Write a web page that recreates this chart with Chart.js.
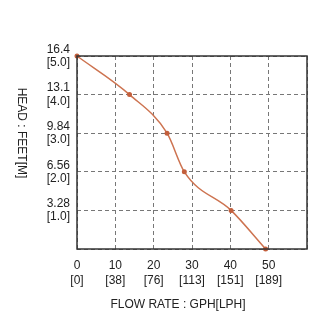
<!DOCTYPE html>
<html>
<head>
<meta charset="utf-8">
<script src="https://cdn.jsdelivr.net/npm/chart.js@4"></script>
<style>
  html, body { margin: 0; padding: 0; background: #fff; }
  #wrap { width: 327px; height: 322px; }
</style>
</head>
<body>
<div id="wrap"><canvas id="pumpChart" width="327" height="322"></canvas></div>
<script>
// pump curve
const flowGph = [0, 13.7, 23.5, 28.0, 40.2, 49.2];
const headFt = [16.4, 13.12, 9.84, 6.56, 3.28, 0];

const xTicks = [0, 10, 20, 30, 40, 50, 60];
const xTickGph = ['0', '10', '20', '30', '40', '50', ''];
const xTickLph = ['[0]', '[38]', '[76]', '[113]', '[151]', '[189]', ''];

const yTicks = [0, 3.28, 6.56, 9.84, 13.12, 16.4];
const yTickFt = ['', '3.28', '6.56', '9.84', '13.1', '16.4'];
const yTickM = ['', '[1.0]', '[2.0]', '[3.0]', '[4.0]', '[5.0]'];

const FONT = "'Liberation Sans', Arial, sans-serif";

const axisTitles = {
    id: 'axisTitles',
    afterDraw(chart) {
        const { ctx, chartArea: { left, top, right, bottom } } = chart;
        ctx.save();
        // box around plot
        ctx.strokeStyle = '#333';
        ctx.lineWidth = 1.5;
        ctx.strokeRect(left, top, right - left, bottom - top);

        ctx.fillStyle = '#222';
        ctx.font = '12px ' + FONT;
        ctx.textAlign = 'center';
        ctx.textBaseline = 'middle';
        ctx.fillText('FLOW RATE : GPH[LPH]', 178, 305);

        ctx.translate(21, 133);
        ctx.rotate(Math.PI / 2);
        ctx.fillText('HEAD : FEET[M]', 0, 0);
        ctx.restore();
    }
};

const points = flowGph.map((x, i) => ({ x: x, y: headFt[i] }));

new Chart(document.getElementById('pumpChart'), {
    type: 'line',
    data: {
        datasets: [{
            data: points,
            borderColor: 'rgb(205, 115, 80)',
            borderWidth: 1.5,
            backgroundColor: 'rgb(195, 95, 60)',
            pointBackgroundColor: 'rgb(195, 95, 60)',
            pointBorderWidth: 0,
            pointRadius: 2.5,
            cubicInterpolationMode: 'monotone',
            fill: false,
            clip: false
        }]
    },
    options: {
        responsive: false,
        animation: false,
        layout: { padding: { left: 0, top: 56, right: 20, bottom: 0 } },
        plugins: {
            legend: { display: false },
            tooltip: { enabled: false }
        },
        scales: {
            x: {
                type: 'linear',
                min: 0,
                max: 60,
                afterFit(scale) { scale.height = 73; },
                afterBuildTicks(scale) { scale.ticks = xTicks.map(v => ({ value: v })); },
                grid: {
                    color: '#777',
                    lineWidth: 1,
                    drawTicks: false
                },
                border: { display: false, dash: [4, 3] },
                ticks: {
                    padding: 9,
                    color: '#222',
                    maxRotation: 0,
                    autoSkip: false,
                    font: { family: FONT, size: 12, lineHeight: 1.25 },
                    callback: function (value) {
                        const i = xTicks.indexOf(value);
                        return i < 0 ? '' : [xTickGph[i], xTickLph[i]];
                    }
                }
            },
            y: {
                type: 'linear',
                min: 0,
                max: 16.4,
                afterFit(scale) { scale.width = 77; },
                afterBuildTicks(scale) { scale.ticks = yTicks.map(v => ({ value: v })); },
                grid: {
                    color: '#777',
                    lineWidth: 1,
                    drawTicks: false
                },
                border: { display: false, dash: [4, 3] },
                ticks: {
                    padding: 7,
                    color: '#222',
                    autoSkip: false,
                    font: { family: FONT, size: 12, lineHeight: 1.1 },
                    callback: function (value) {
                        const i = yTicks.indexOf(value);
                        return i < 0 ? '' : [yTickFt[i], yTickM[i]];
                    }
                }
            }
        }
    },
    plugins: [axisTitles]
});
</script>
</body>
</html>
